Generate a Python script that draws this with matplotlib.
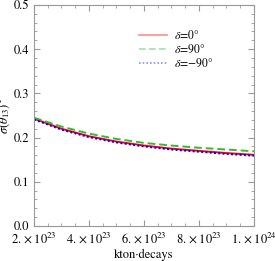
"""Sigma(theta13) vs exposure for three delta values."""
import matplotlib
matplotlib.use("Agg")
import matplotlib.pyplot as plt
from matplotlib.lines import Line2D
from matplotlib.ticker import MultipleLocator

plt.rcParams["font.family"] = ["STIXGeneral", "DejaVu Serif"]
plt.rcParams["mathtext.fontset"] = "stix"

exposure = [2e23, 3e23, 4e23, 5e23, 6e23, 7e23, 8e23, 9e23, 1e24]
sigma_d0 = [0.243, 0.220, 0.203, 0.191, 0.182, 0.175, 0.170, 0.165, 0.161]
sigma_d90 = [0.245, 0.225, 0.209, 0.197, 0.188, 0.182, 0.177, 0.173, 0.169]
sigma_dm90 = [0.241, 0.218, 0.201, 0.189, 0.180, 0.173, 0.168, 0.163, 0.159]
labels = [r"$\delta$=0°", r"$\delta$=90°", r"$\delta$=−90°"]
xticks = [2e23, 4e23, 6e23, 8e23, 1e24]
xticklabels = [r"$2.\times10^{23}$", r"$4.\times10^{23}$", r"$6.\times10^{23}$",
               r"$8.\times10^{23}$", r"$1.\times10^{24}$"]

fig = plt.figure(figsize=(2.75, 2.61), dpi=100)
ax = fig.add_axes([0.1236, 0.134, 0.80, 0.847])

styles = [("red", "-"), ("#33bb33", (0, (4, 2))), ("blue", (0, (1, 1.2)))]
for ys, (c, ls) in zip([sigma_d0, sigma_d90, sigma_dm90], styles):
    ax.plot(exposure, ys, color=c, ls=ls, lw=1.4)

ax.set_xlim(2e23, 1e24)
ax.set_ylim(0, 0.5)
ax.set_xticks(xticks)
ax.set_xticklabels(xticklabels)
ax.xaxis.set_minor_locator(MultipleLocator(0.5e23))
ax.yaxis.set_major_locator(MultipleLocator(0.1))
ax.yaxis.set_minor_locator(MultipleLocator(0.02))
ax.tick_params(which="both", direction="in", top=True, right=True,
               color="#999999", labelsize=9)
ax.tick_params(which="major", length=4)
ax.tick_params(which="minor", length=2)
for s in ax.spines.values():
    s.set_color("#999999")
    s.set_linewidth(0.8)

ax.set_xlabel("kton·decays", fontsize=9, labelpad=2)
ax.set_ylabel(r"$\sigma(\theta_{13})^\circ$", fontsize=9, labelpad=1)

handles = [Line2D([], [], color=c, ls=ls, lw=1.2, alpha=0.45) for c, ls in styles]
ax.legend(handles, labels, loc="upper right", bbox_to_anchor=(0.865, 0.94),
          frameon=False, fontsize=8.5, handlelength=2.4, labelspacing=0.15,
          handletextpad=0.6)

fig.savefig("out.png", dpi=100)
